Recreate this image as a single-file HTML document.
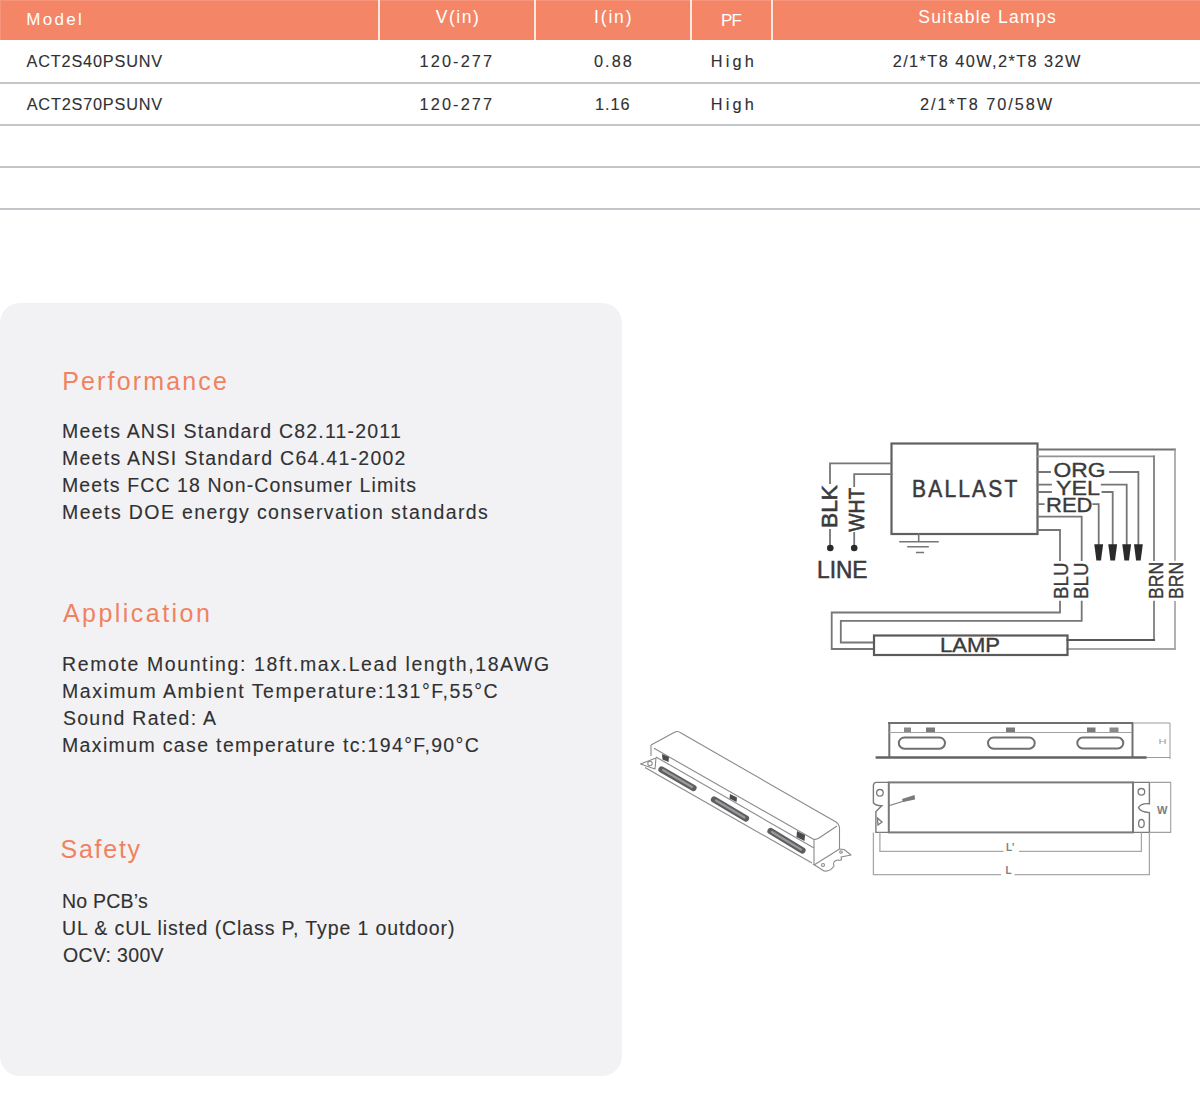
<!DOCTYPE html>
<html><head><meta charset="utf-8"><style>
html,body{margin:0;padding:0;background:#fff;}
body{width:1200px;height:1110px;position:relative;overflow:hidden;font-family:"Liberation Sans",sans-serif;}
.t{position:absolute;white-space:pre;line-height:1;}
.s{-webkit-text-stroke:0.12px currentColor;}
.hdr{position:absolute;left:0;top:0;width:1200px;height:39.5px;background:#f48667;box-shadow:inset 1px 1px 0 #f6957a;}
.vs{position:absolute;top:0;height:39.5px;width:2px;background:#fbe9e0;}
.hl{position:absolute;left:0;width:1200px;height:2px;background:#c4c5ca;}
.panel{position:absolute;left:0;top:303px;width:622px;height:773px;border-radius:20px;background:#f2f2f4;}
svg{position:absolute;left:0;top:0;}
</style></head><body>
<div class="hdr"></div>
<div class="vs" style="left:377.5px"></div>
<div class="vs" style="left:534px"></div>
<div class="vs" style="left:690px"></div>
<div class="vs" style="left:771px"></div>
<div class="hl" style="top:81.5px"></div>
<div class="hl" style="top:123.5px"></div>
<div class="hl" style="top:165.5px"></div>
<div class="hl" style="top:207.5px"></div>
<div class="panel"></div>
<div class="t" style="left:26.30px;top:11.41px;font-size:17px;letter-spacing:2.294px;color:#fff;font-weight:400">Model</div>
<div class="t" style="left:435.80px;top:9.19px;font-size:17.5px;letter-spacing:1.495px;color:#fff;font-weight:400">V(in)</div>
<div class="t" style="left:594.00px;top:9.19px;font-size:17.5px;letter-spacing:1.847px;color:#fff;font-weight:400">I(in)</div>
<div class="t" style="left:720.88px;top:11.51px;font-size:17px;letter-spacing:-0.600px;color:#fff;font-weight:400">PF</div>
<div class="t" style="left:918.30px;top:9.39px;font-size:17.5px;letter-spacing:1.294px;color:#fff;font-weight:400">Suitable Lamps</div>
<div class="t s" style="left:26.50px;top:53.30px;font-size:16.3px;letter-spacing:0.816px;color:#313133;font-weight:400">ACT2S40PSUNV</div>
<div class="t s" style="left:419.60px;top:53.30px;font-size:16.3px;letter-spacing:2.117px;color:#313133;font-weight:400">120-277</div>
<div class="t s" style="left:594.00px;top:53.30px;font-size:16.3px;letter-spacing:2.056px;color:#313133;font-weight:400">0.88</div>
<div class="t s" style="left:710.70px;top:53.30px;font-size:16.3px;letter-spacing:3.190px;color:#313133;font-weight:400">High</div>
<div class="t s" style="left:892.70px;top:53.30px;font-size:16.3px;letter-spacing:1.427px;color:#313133;font-weight:400">2/1*T8 40W,2*T8 32W</div>
<div class="t s" style="left:26.70px;top:96.30px;font-size:16.3px;letter-spacing:0.798px;color:#313133;font-weight:400">ACT2S70PSUNV</div>
<div class="t s" style="left:419.60px;top:96.30px;font-size:16.3px;letter-spacing:2.117px;color:#313133;font-weight:400">120-277</div>
<div class="t s" style="left:595.00px;top:96.30px;font-size:16.3px;letter-spacing:0.989px;color:#313133;font-weight:400">1.16</div>
<div class="t s" style="left:710.70px;top:96.30px;font-size:16.3px;letter-spacing:3.190px;color:#313133;font-weight:400">High</div>
<div class="t s" style="left:920.00px;top:96.30px;font-size:16.3px;letter-spacing:1.955px;color:#313133;font-weight:400">2/1*T8 70/58W</div>
<div class="t" style="left:62.20px;top:368.84px;font-size:25px;letter-spacing:2.159px;color:#f0825f;font-weight:400">Performance</div>
<div class="t" style="left:62.90px;top:601.34px;font-size:25px;letter-spacing:2.470px;color:#f0825f;font-weight:400">Application</div>
<div class="t" style="left:60.50px;top:836.94px;font-size:25px;letter-spacing:1.745px;color:#f0825f;font-weight:400">Safety</div>
<div class="t s" style="left:62.00px;top:421.79px;font-size:19.5px;letter-spacing:1.199px;color:#313133;font-weight:400">Meets ANSI Standard C82.11-2011</div>
<div class="t s" style="left:62.00px;top:449.29px;font-size:19.5px;letter-spacing:1.259px;color:#313133;font-weight:400">Meets ANSI Standard C64.41-2002</div>
<div class="t s" style="left:62.00px;top:476.29px;font-size:19.5px;letter-spacing:1.109px;color:#313133;font-weight:400">Meets FCC 18 Non-Consumer Limits</div>
<div class="t s" style="left:62.00px;top:503.29px;font-size:19.5px;letter-spacing:1.392px;color:#313133;font-weight:400">Meets DOE energy conservation standards</div>
<div class="t s" style="left:62.00px;top:655.29px;font-size:19.5px;letter-spacing:1.603px;color:#313133;font-weight:400">Remote Mounting: 18ft.max.Lead length,18AWG</div>
<div class="t s" style="left:62.00px;top:682.29px;font-size:19.5px;letter-spacing:1.520px;color:#313133;font-weight:400">Maximum Ambient Temperature:131°F,55°C</div>
<div class="t s" style="left:63.00px;top:709.29px;font-size:19.5px;letter-spacing:1.256px;color:#313133;font-weight:400">Sound Rated: A</div>
<div class="t s" style="left:62.00px;top:736.29px;font-size:19.5px;letter-spacing:1.353px;color:#313133;font-weight:400">Maximum case temperature tc:194°F,90°C</div>
<div class="t s" style="left:62.00px;top:891.59px;font-size:19.5px;letter-spacing:0.226px;color:#313133;font-weight:400">No PCB’s</div>
<div class="t s" style="left:62.00px;top:918.99px;font-size:19.5px;letter-spacing:0.895px;color:#313133;font-weight:400">UL &amp; cUL listed (Class P, Type 1 outdoor)</div>
<div class="t s" style="left:63.00px;top:946.29px;font-size:19.5px;letter-spacing:0.337px;color:#313133;font-weight:400">OCV: 300V</div>
<svg width="1200" height="1110" viewBox="0 0 1200 1110" style="position:absolute;left:0;top:0">
<g fill="none" stroke="#767678" stroke-width="1.8" stroke-linecap="square">
  <rect x="891.5" y="443.5" width="146" height="90.5" stroke="#606062" stroke-width="2.2"/>
  <path d="M891.5,463.3 H830 V483 M830,530 V548"/>
  <path d="M891.5,474.2 H854.2 V486 M854.2,533 V548"/>
  <path d="M918.7,534 V541.7 M900,541.7 H938 M908,546.7 H928 M916.7,552.5 H923.3" stroke-width="1.6"/>
  <path d="M1037.5,449.5 H1175" stroke="#727274"/>
  <path d="M1175,449.5 V560 M1175,601.7 V649" stroke="#98989a" stroke-width="1.5"/>
  <path d="M1175,649 H1067.5" stroke="#a6a6a8" stroke-width="1.8"/>
  <path d="M1037.5,456.3 H1154" stroke="#929294"/>
  <path d="M1154,456.3 V560 M1154,601.7 V640" stroke="#808082"/>
  <path d="M1154,640 H1067.5" stroke="#58585a" stroke-width="2.2"/>
  <path d="M1037.5,472 H1050 M1110,472 H1138.4 V545"/>
  <path d="M1037.5,484.6 H1051 M1101.7,484.6 H1126.7 V545"/>
  <path d="M1037.5,492 H1051 M1102.5,492 H1112.7 V545"/>
  <path d="M1037.5,504.2 H1043.7 M1093.3,504.2 H1098.7 V545"/>
  <path d="M1037.5,516.7 H1081.7 V560 M1081.7,601.7 V620.8 H840.8 V642.5 H874"/>
  <path d="M1037.5,530 H1060 V560 M1060,601.7 V612.5 H831.7 V649 H874"/>
  <rect x="874" y="635.5" width="193.5" height="19.5" stroke="#5a5a5c" stroke-width="2.2"/>
</g>
<g fill="#2a2a2a">
  <circle cx="830.3" cy="548" r="3.3"/>
  <circle cx="854.2" cy="548" r="3.3"/>
  <path d="M1094.3,544.3 H1103.1 L1101,560.6 H1096.4 Z"/>
  <path d="M1108.3,544.3 H1117.1 L1115,560.6 H1110.4 Z"/>
  <path d="M1122.3,544.3 H1131.1 L1129,560.6 H1124.4 Z"/>
  <path d="M1134,544.3 H1142.8 L1140.7,560.6 H1136.1 Z"/>
</g>
<g font-family="Liberation Sans" fill="#3a3a3c" stroke="#3a3a3c" stroke-width="0.35">
  <text x="912" y="496.7" font-size="24" letter-spacing="2.5" stroke-width="0.55" textLength="107.5" lengthAdjust="spacingAndGlyphs">BALLAST</text>
  <text x="817" y="577.5" font-size="24" stroke-width="0.55" textLength="50.5" lengthAdjust="spacingAndGlyphs">LINE</text>
  <text x="1053.5" y="476.7" font-size="19.5" textLength="52" lengthAdjust="spacingAndGlyphs">ORG</text>
  <text x="1056" y="495" font-size="20" textLength="44" lengthAdjust="spacingAndGlyphs">YEL</text>
  <text x="1046" y="512" font-size="20" textLength="46.5" lengthAdjust="spacingAndGlyphs">RED</text>
  <text x="940" y="652.3" font-size="19.5" textLength="60" lengthAdjust="spacingAndGlyphs">LAMP</text>
  <text transform="translate(836.5,528) rotate(-90)" font-size="22" stroke-width="0.6" textLength="43" lengthAdjust="spacingAndGlyphs">BLK</text>
  <text transform="translate(864,531.7) rotate(-90)" font-size="22" stroke-width="0.6" textLength="44" lengthAdjust="spacingAndGlyphs">WHT</text>
  <text transform="translate(1068,599) rotate(-90)" font-size="21" textLength="36.5" lengthAdjust="spacingAndGlyphs">BLU</text>
  <text transform="translate(1088,599) rotate(-90)" font-size="21" textLength="36.5" lengthAdjust="spacingAndGlyphs">BLU</text>
  <text transform="translate(1162.5,599) rotate(-90)" font-size="21" textLength="37.3" lengthAdjust="spacingAndGlyphs">BRN</text>
  <text transform="translate(1182.5,599) rotate(-90)" font-size="21" textLength="37.3" lengthAdjust="spacingAndGlyphs">BRN</text>
</g>
<!-- side view -->
<g fill="none" stroke="#707072" stroke-width="1.6">
  <path d="M888,723 H1133.3" stroke-width="2"/>
  <path d="M889.3,723 V757 M1132.5,723 V757" stroke-width="2"/>
  <path d="M889,732.5 H1132" stroke="#a0a0a2" stroke-width="1.2"/>
  <path d="M875.6,757.5 H1146.7" stroke="#636365" stroke-width="2.6"/>
  <rect x="898.8" y="737.5" width="46.2" height="11.2" rx="5.6" stroke-width="2"/>
  <rect x="988" y="737.5" width="46.7" height="11.2" rx="5.6" stroke-width="2"/>
  <rect x="1077.3" y="737.6" width="46" height="10.8" rx="5.4" stroke-width="2"/>
  <path d="M1133.3,723 H1170 M1170,723 V759 M1146.7,757.5 H1170" stroke="#9a9a9c" stroke-width="1"/>
</g>
<g fill="#58585a">
  <rect x="904" y="727.5" width="7" height="4.5" fill="#8a8a8c"/>
  <rect x="926" y="727.5" width="9" height="4.5" fill="#7a7a7c"/>
  <rect x="1006" y="727.5" width="9" height="4.5" fill="#7a7a7c"/>
  <rect x="1087" y="727.5" width="8.5" height="4.5" fill="#7a7a7c"/>
  <rect x="1109.5" y="727.5" width="9" height="4.5" fill="#8a8a8c"/>
  <text x="1158.5" y="744" font-family="Liberation Sans" font-size="7" fill="#a0a0a2" textLength="8" lengthAdjust="spacingAndGlyphs">H</text>
</g>
<!-- top view -->
<g fill="none" stroke="#7a7a7c" stroke-width="1.6">
  <rect x="888.8" y="782.4" width="244.2" height="50" stroke-width="2"/>
  <path d="M888.8,782.4 H876.5 Q873.4,782.4 873.4,785.5 V802.7 Q876,806 881.8,805.7 L875.9,811.6 V832.4 H888.8" stroke-width="1.4"/>
  <circle cx="879.9" cy="792.8" r="3.3" stroke-width="1.3"/>
  <path d="M877.5,818 L882,822 L878,825 Z" stroke-width="1.3"/>
  <path d="M888.8,805.7 L914.6,797.7" stroke-width="1.2"/>
  <path d="M1133,782.4 H1149.4 V803.7 Q1141,803 1138.5,807.5 Q1140,812 1149.4,812.6 V832.4 H1133" stroke-width="1.4"/>
  <circle cx="1141.4" cy="791.8" r="3.3" stroke-width="1.3"/>
  <ellipse cx="1141.4" cy="823.5" rx="2.8" ry="4" stroke-width="1.3"/>
  <path d="M1149.4,782.4 H1170.7 V832.4 H1149.4" stroke="#a0a0a2" stroke-width="1.1"/>
  <path d="M879.9,832.4 V851.3 H1003.5 M1019,851.3 H1141.4 V832.4" stroke="#a8a8aa" stroke-width="1.3"/>
  <path d="M873.4,832.4 V874.6 H1001 M1014.5,874.6 H1149.4 V832.4" stroke="#a8a8aa" stroke-width="1.3"/>
</g>
<g fill="#7a7a7c">
  <path d="M902,799 L914.6,795 L915,799.5 L903,802 Z"/>
  <text x="1157" y="814" font-family="Liberation Sans" font-weight="bold" font-size="10" fill="#7c7c7e" textLength="10.5" lengthAdjust="spacingAndGlyphs">W</text>
  <text x="1006" y="851" font-family="Liberation Sans" font-weight="bold" font-size="10" fill="#808082">L'</text>
  <text x="1005.5" y="874" font-family="Liberation Sans" font-weight="bold" font-size="10" fill="#808082">L</text>
</g>
<!-- isometric view -->
<g fill="none" stroke="#8a8a8c" stroke-width="1.1" stroke-linejoin="round">
  <path d="M675,732 Q678,730.5 681,733 L836,822 Q840,825 839.5,830 L839.5,849"/>
  <path d="M651,745 L675,732"/>
  <path d="M651,745 V756"/>
  <path d="M654,748.3 L813,839 Q816,840 819,838 L837,826"/>
  <path d="M656,757 L814,848"/>
  <path d="M814,839 V865"/>
  <path d="M645,767.5 L812,863"/>
  <path d="M814,865 L839.5,849"/>
  <path d="M640.5,764 L656,758 L655,769 Z"/>
  <circle cx="650" cy="763.5" r="2.2"/>
  <path d="M813,864 L824,871 Q830,872 834,866 Q832,861 838,860 Q843,861 841,857 L851,855 L844,849.5 L839.5,849"/>
  <circle cx="823" cy="865" r="1.5"/>
  <circle cx="841" cy="852" r="1.3"/>
</g>
<g fill="none" stroke="#5e5e60" stroke-width="6.2" stroke-linecap="round">
  <path d="M661.5,769.5 L693.5,788"/>
  <path d="M714,799.5 L746,818.5"/>
  <path d="M770.5,831 L802.5,850.5"/>
</g>
<g fill="none" stroke="#9a9a9c" stroke-width="2.2" stroke-linecap="round">
  <path d="M663,770 L692,787"/>
  <path d="M716,800.5 L744.5,817.5"/>
  <path d="M772,832 L801,849.5"/>
</g>
<g fill="#4a4a4c">
  <path d="M662,754 L669,757 L668.5,762 L662.5,759.5 Z"/>
  <path d="M730,794 L737,797.5 L736.5,802 L729.5,798.5 Z"/>
  <path d="M797,831 L805,835 L804.5,841 L796.5,837 Z"/>
</g>
</svg>

</body></html>
